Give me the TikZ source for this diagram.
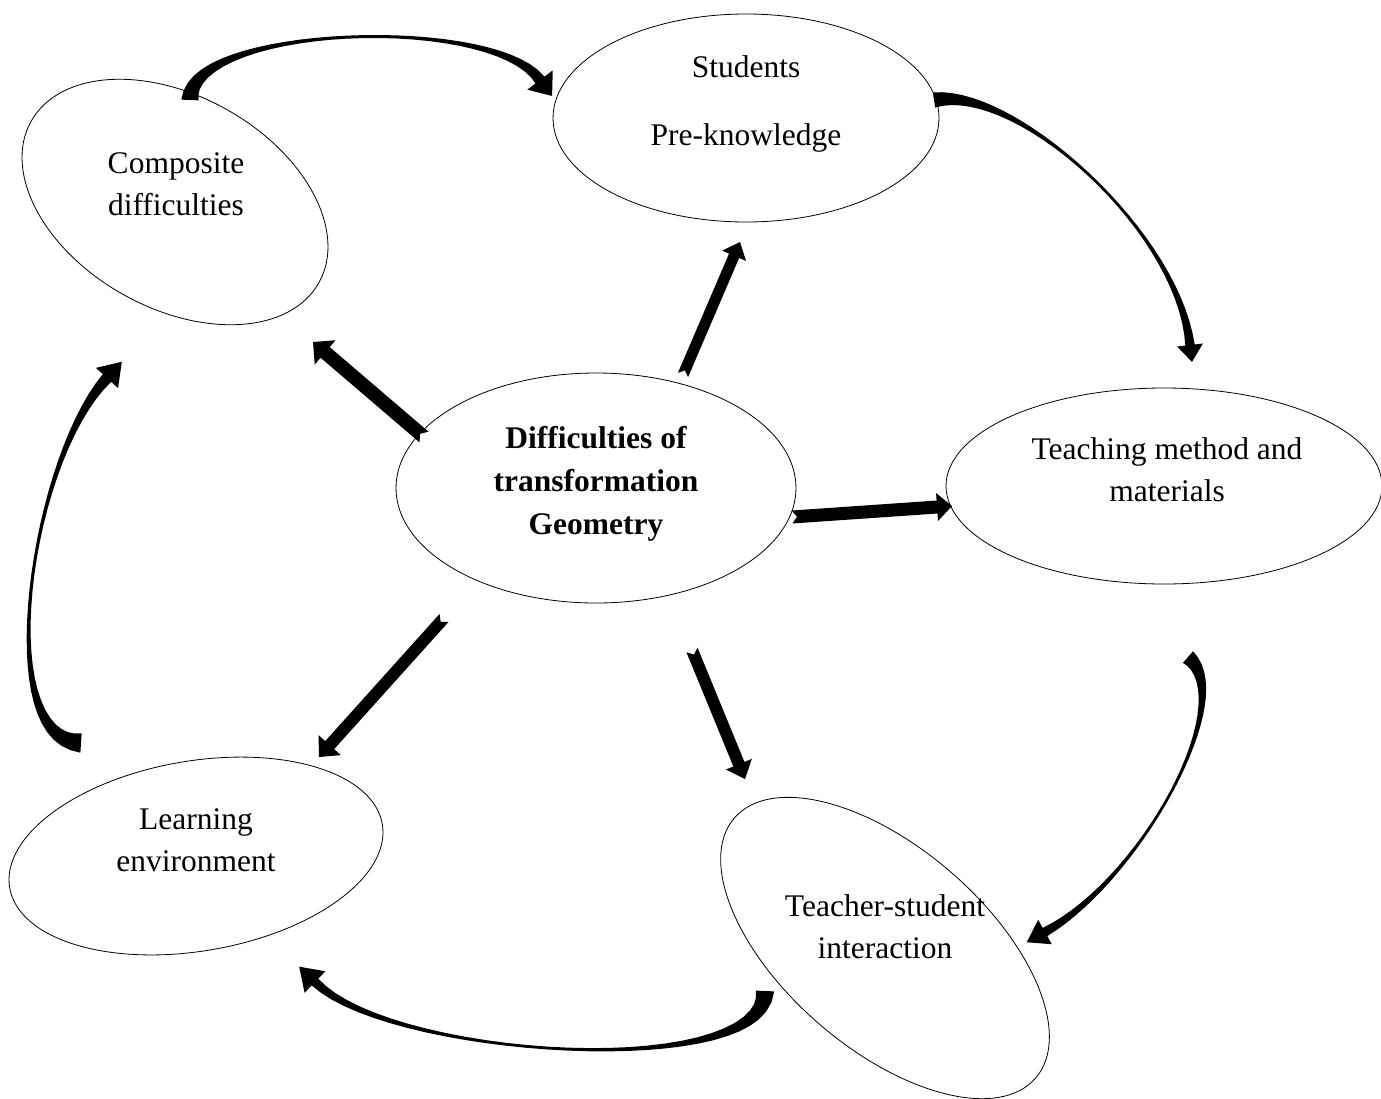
\documentclass[tikz,border=0pt]{standalone}
\usepackage{fontspec}
\setmainfont{Liberation Serif}
\usetikzlibrary{calc,shapes.geometric}

\tikzset{
  bubble/.style={draw, ellipse, line width=0.8pt, inner sep=0pt},
  caption/.style={align=center, inner sep=0pt, font=\fontsize{31.5}{42}\selectfont},
}

% straight block arrow with a notched tail
% #1 name, #2 tail, #3 tip, #4 shaft half-width, #5 head half-width, #6 head length
\newcommand\blockarrow[6]{%
  \coordinate (#1-hb) at ($(#3)!#6 pt!(#2)$);
  \fill ($(#2)!5pt!(#3)$)
     -- ($(#2)!#4 pt!90:(#3)$) -- ($(#1-hb)!#4 pt!90:(#3)$)
     -- ($(#1-hb)!#5 pt!90:(#3)$) -- (#3)
     -- ($(#1-hb)!#5 pt!-90:(#3)$) -- ($(#1-hb)!#4 pt!-90:(#3)$)
     -- ($(#2)!#4 pt!-90:(#3)$) -- cycle;
}

% tapered curved arrow along a cubic centre line
% #1 name, #2 tail, #3 control 1, #4 control 2, #5 head base,
% #6 tail half-width, #7 half-width at head, #8 head half-width, #9 head length
\newcommand\bentarrow[9]{%
  \foreach \k in {0,...,30}{
    \pgfmathsetmacro\myt{\k/30}
    \pgfmathsetmacro\myta{min(\myt+0.01,1)}
    \pgfmathsetmacro\mytb{max(\myt-0.01,0)}
    \pgfmathsetmacro\myh{#6*(1-\myt)^4+#7*\myt^4+0.7}
    \path (#2) .. controls (#3) and (#4) .. (#5)
      coordinate[pos=\myt] (#1-n\k) coordinate[pos=\myta] (#1-a\k) coordinate[pos=\mytb] (#1-b\k);
    \coordinate (#1-u\k) at ($(#1-b\k)!\myh pt!90:(#1-a\k)$);
    \coordinate (#1-v\k) at ($(#1-b\k)!\myh pt!-90:(#1-a\k)$);
    \coordinate (#1-l\k) at ($(#1-n\k)+(#1-u\k)-(#1-b\k)$);
    \coordinate (#1-r\k) at ($(#1-n\k)+(#1-v\k)-(#1-b\k)$);
  }
  \coordinate (#1-tip) at ($(#1-n30)!#9 pt!180:(#1-b30)$);
  \coordinate (#1-hu) at ($(#1-b30)!#8 pt!90:(#1-n30)$);
  \coordinate (#1-hv) at ($(#1-b30)!#8 pt!-90:(#1-n30)$);
  \coordinate (#1-hl) at ($(#1-n30)+(#1-hu)-(#1-b30)$);
  \coordinate (#1-hr) at ($(#1-n30)+(#1-hv)-(#1-b30)$);
  \fill (#1-l0) \foreach \k in {1,...,30}{ -- (#1-l\k)}
    -- (#1-hl) -- (#1-tip) -- (#1-hr)
    \foreach \k in {30,...,0}{ -- (#1-r\k)} -- cycle;
}

\begin{document}
\begin{tikzpicture}[x=1pt,y=-1pt]
  \clip (0,0) rectangle (1381,1098);
  \fill[white] (0,0) rectangle (1381,1098);

  % the six bubbles
  \node[bubble, minimum width=330pt, minimum height=212pt, rotate=-29.3] (comp) at (175,202) {};
  \node[bubble, minimum width=386pt, minimum height=208pt] (stud) at (746,118) {};
  \node[bubble, minimum width=400pt, minimum height=230pt] (core) at (596,488) {};
  \node[bubble, minimum width=436pt, minimum height=196pt] (teach) at (1164,486) {};
  \node[bubble, minimum width=378pt, minimum height=190pt, rotate=9.7] (learn) at (196,856) {};
  \node[bubble, minimum width=398pt, minimum height=201pt, rotate=-40.8] (inter) at (885,948) {};

  % straight arrows out of the core bubble
  \coordinate (a1t) at (424,437); \coordinate (a1h) at (313,342);
  \coordinate (a2t) at (683,375); \coordinate (a2h) at (740,242);
  \coordinate (a3t) at (792,517); \coordinate (a3h) at (952,506);
  \coordinate (a4t) at (444,618); \coordinate (a4h) at (319,757);
  \coordinate (a5t) at (692,650); \coordinate (a5h) at (745,779);
  \blockarrow{sa}{a1t}{a1h}{7}{16}{16}
  \blockarrow{sb}{a2t}{a2h}{5.5}{13}{15}
  \blockarrow{sc}{a3t}{a3h}{6.5}{14}{15}
  \blockarrow{sd}{a4t}{a4h}{6}{15}{16}
  \blockarrow{se}{a5t}{a5h}{6}{14}{16}

  % curved arrows round the outer ring
  \bentarrow{ca}{190,100}{190,25}{493,14}{540,80}{8}{5}{16}{20}
  \bentarrow{cb}{934,100}{1015,85}{1178,230}{1190,345}{7}{4}{13}{17}
  \bentarrow{cc}{1188,657}{1240,700}{1140,880}{1045,932}{7}{4}{14}{21}
  \bentarrow{cd}{765,991}{765,1082}{390,1058}{315,982}{8.5}{4}{15}{22}
  \bentarrow{ce}{81,743}{-10,740}{30,460}{107,378}{9}{5}{15}{22}

  % captions
  \node[caption] (tcomp) at (176,184) {Composite\\difficulties};
  \node[caption] (tstud) at (746,104) {Students\\[26pt]Pre-knowledge};
  \node[caption, font=\fontsize{31.5}{43}\selectfont\bfseries] (tcore) at (596,484) {Difficulties of\\transformation\\Geometry};
  \node[caption] (tteach) at (1167,470) {Teaching method and\\materials};
  \node[caption] (tlearn) at (196,840) {Learning\\environment};
  \node[caption] (tinter) at (885,927) {Teacher-student\\interaction};
\end{tikzpicture}
\end{document}
